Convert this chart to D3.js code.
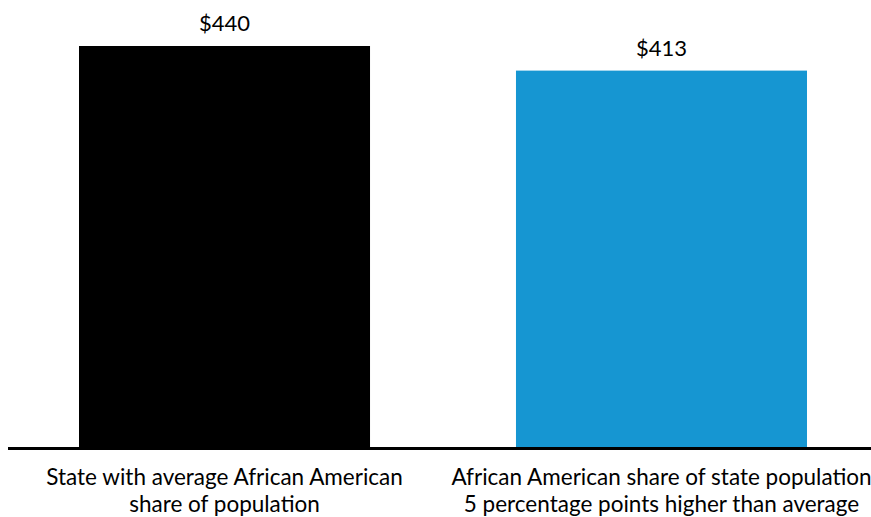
<!DOCTYPE html>
<html>
<head>
<meta charset="utf-8">
<script src="https://cdn.jsdelivr.net/npm/d3@7"></script>
<style>
  body { margin: 0; background: #fff; }
  svg text { font-family: Lato, "Open Sans", sans-serif; fill: #000; }
</style>
</head>
<body>
<svg class="chart"></svg>
<script>
const width = 871,
  height = 517;

const categories = [
  'State with average African American|share of population',
  'African American share of state population|5 percentage points higher than average'
];
const values = [440, 413];
const colors = ['#000000', '#1696d2'];

let x = d3.scaleBand()
  .domain(categories)
  .range([79, 807])
  .paddingInner(0.334)
  .paddingOuter(0);

let y = d3.scaleLinear()
  .domain([0, 440])
  .range([447, 46]);

let chart = d3.select(".chart")
  .attr("width", width)
  .attr("height", height);

chart.selectAll("rect.bar")
  .data(categories)
  .enter().append("rect")
  .attr("class", "bar")
  .attr("x", d => x(d))
  .attr("y", (d, i) => y(values[i]))
  .attr("width", x.bandwidth())
  .attr("height", (d, i) => y(0) - y(values[i]))
  .attr("fill", (d, i) => colors[i]);

chart.selectAll("text.value")
  .data(categories)
  .enter().append("text")
  .attr("class", "value")
  .attr("x", d => x(d) + x.bandwidth() / 2)
  .attr("y", (d, i) => y(values[i]) - 15)
  .attr("text-anchor", "middle")
  .style("font-size", "22px")
  .text((d, i) => "$" + values[i]);

// baseline
chart.append("line")
  .attr("x1", 8)
  .attr("x2", width)
  .attr("y1", y(0) + 1.5)
  .attr("y2", y(0) + 1.5)
  .attr("stroke", "#000")
  .attr("stroke-width", 3);

let xAxis = d3.axisBottom(x).tickSize(0).tickPadding(0);
let ax = chart.append("g")
  .attr("transform", `translate(0, ${y(0)})`)
  .call(xAxis);
ax.select(".domain").remove();
ax.selectAll(".tick text").each(function(d) {
  let t = d3.select(this).text(null)
    .attr("dy", null)
    .attr("y", 38)
    .style("font-size", "22.5px");
  d.split("|").forEach((line, i) => {
    t.append("tspan")
      .attr("x", 0)
      .attr("dy", i === 0 ? 0 : 27)
      .text(line);
  });
});
</script>
</body>
</html>
